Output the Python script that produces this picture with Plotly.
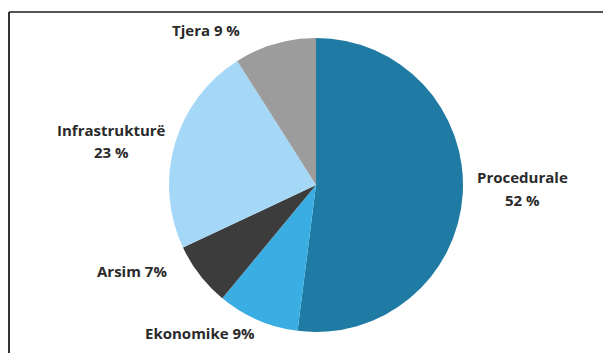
import plotly.graph_objects as go

labels = ["Procedurale", "Ekonomike", "Arsim", "Infrastrukturë", "Tjera"]
values = [52, 9, 7, 23, 9]
label_lines = [["Procedurale", "52 %"], ["Ekonomike 9%"], ["Arsim 7%"], ["Infrastrukturë", "23 %"], ["Tjera 9 %"]]
colors = ["#1f7ba3", "#3aaee3", "#3c3c3c", "#a5d8f6", "#9c9c9c"]

W, H = 611, 353
OFF = 8  # page body margin
cx, cy, r = 316 - OFF, 185 - OFF, 147

fig = go.Figure(go.Pie(
    labels=labels, values=values, sort=False, direction="clockwise", rotation=0,
    marker=dict(colors=colors, line=dict(width=0)),
    textinfo="none", hoverinfo="label+percent", showlegend=False,
    domain=dict(x=[(cx - r) / W, (cx + r) / W], y=[(H - cy - r) / H, (H - cy + r) / H]),
))

label_pos = [(522, 188), (200, 333), (132, 271), (111, 141), (206, 30)]
line_gap = 23
for lines, (x, y) in zip(label_lines, label_pos):
    n = len(lines)
    for i, t in enumerate(lines):
        yy = y - OFF + (i - (n - 1) / 2) * line_gap
        fig.add_annotation(x=(x - OFF) / W, y=1 - yy / H, xref="paper", yref="paper", text=f"<b>{t}</b>",
                           showarrow=False, font=dict(family="Open Sans", size=15, color="#2a2a2a"),
                           align="center", xanchor="center", yanchor="middle")

fig.add_shape(type="line", xref="paper", yref="paper", x0=1 / W, x1=1, y0=1 - 4 / H, y1=1 - 4 / H,
              line=dict(color="#555555", width=2))
fig.add_shape(type="line", xref="paper", yref="paper", x0=1 / W, x1=1 / W, y0=1 - 4 / H, y1=0,
              line=dict(color="#333333", width=2))

fig.update_layout(width=W, height=H, margin=dict(l=0, r=0, t=0, b=0),
                  paper_bgcolor="white", plot_bgcolor="white")
fig.write_html("out.html")
